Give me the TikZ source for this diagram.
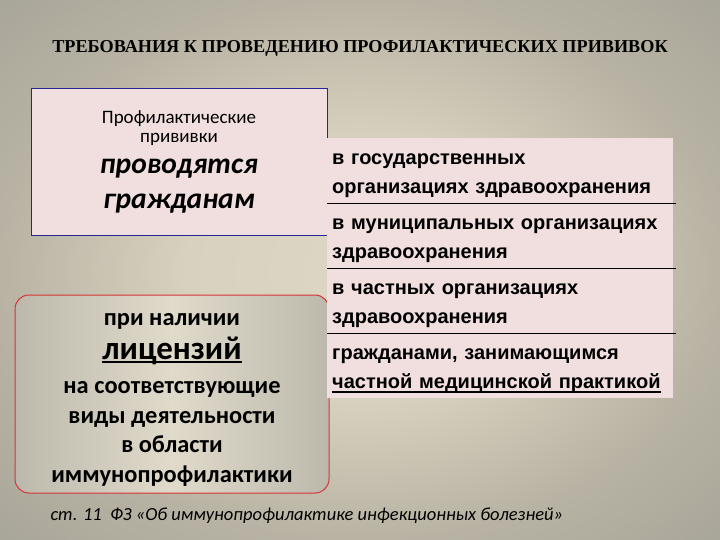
\documentclass[tikz,border=0pt]{standalone}
\usepackage{fontspec}
\setmainfont{Carlito}
\newfontfamily\titlefont{Liberation Serif}
\newfontfamily\tabfont{Liberation Sans}
\newsavebox\ulbox
\newcommand\thickul[2][1.6pt]{\leavevmode\sbox\ulbox{#2}\rlap{\rule[-4pt]{\wd\ulbox}{#1}}\usebox\ulbox}
\newcommand\freelines{\lineskiplimit=-60pt\relax}
\pgfdeclareradialshading{bgshade}{\pgfpoint{0bp}{0bp}}{rgb(0bp)=(0.87,0.84,0.77);
  rgb(12bp)=(0.85,0.82,0.75); rgb(25bp)=(0.72,0.70,0.64); rgb(50bp)=(0.58,0.58,0.55)}
\definecolor{rowpink}{RGB}{241,223,224}
\definecolor{boxblue}{RGB}{40,36,150}
\definecolor{boxred}{RGB}{214,52,52}
\definecolor{boxside}{RGB}{188,185,172}
\definecolor{boxmid}{RGB}{224,218,202}
\begin{document}
\begin{tikzpicture}[x=1pt,y=-1pt,
        row/.style={rectangle,fill=rowpink,anchor=north west,
          minimum width=346pt,minimum height=65pt,text width=336pt,
          inner sep=5pt,align=left,
          execute at begin node={\rule{0pt}{21pt}},
          font=\tabfont\bfseries\fontsize{20}{29}\selectfont},
        sep/.style={black,line width=1pt}]
      % background
      \shade[shading=bgshade] (0,0) rectangle (720,540);
      \node (title) at (360,48) [font=\titlefont\bfseries\fontsize{18.2}{20}\selectfont]
        {ТРЕБОВАНИЯ К ПРОВЕДЕНИЮ ПРОФИЛАКТИЧЕСКИХ ПРИВИВОК};
      % left boxes
      \node (b1) at (179,161.5) [rectangle,draw=boxblue,fill=rowpink,line width=0.8pt,
          minimum width=296pt,minimum height=147pt,align=center,
          font=\fontsize{19}{19}\selectfont\freelines]
        {Профилактические\\прививки\\[12pt]
         {\fontsize{29.5}{30}\selectfont\bfseries\itshape проводятся}\\[16pt]
         {\fontsize{29.5}{30}\selectfont\bfseries\itshape гражданам}};
      \node (b2) at (172,394) [rectangle,rounded corners=14pt,draw=boxred,line width=1pt,
          left color=boxside,right color=boxside,middle color=boxmid,
          minimum width=314pt,minimum height=198pt,align=center,
          font=\bfseries\fontsize{24.4}{29.5}\selectfont\freelines]
        {\rule{0pt}{24pt}при наличии\\[4pt]
         {\fontsize{33}{33}\selectfont\thickul[2pt]{лицензий}}\\[5pt]
         на соответствующие\\виды деятельности\\в области\\иммунопрофилактики};
      % table
      \node (r1) at (327,138) [row] {в государственных\\организациях здравоохранения};
      \node (r2) at (327,203) [row] {в муниципальных организациях\\здравоохранения};
      \node (r3) at (327,268) [row] {в частных организациях\\здравоохранения};
      \node (r4) at (327,333) [row] {гражданами, занимающимся\\\thickul{частной медицинской практикой}};
      \draw[sep] (r1.south west) -- ([xshift=3pt]r1.south east);
      \draw[sep] (r2.south west) -- ([xshift=3pt]r2.south east);
      \draw[sep] (r3.south west) -- ([xshift=3pt]r3.south east);
      % source
      \node (src) at (47,516) [anchor=west,font=\itshape\fontsize{18.5}{20}\selectfont]
        {ст. 11~~ФЗ «Об иммунопрофилактике инфекционных болезней»};
\end{tikzpicture}
\end{document}
